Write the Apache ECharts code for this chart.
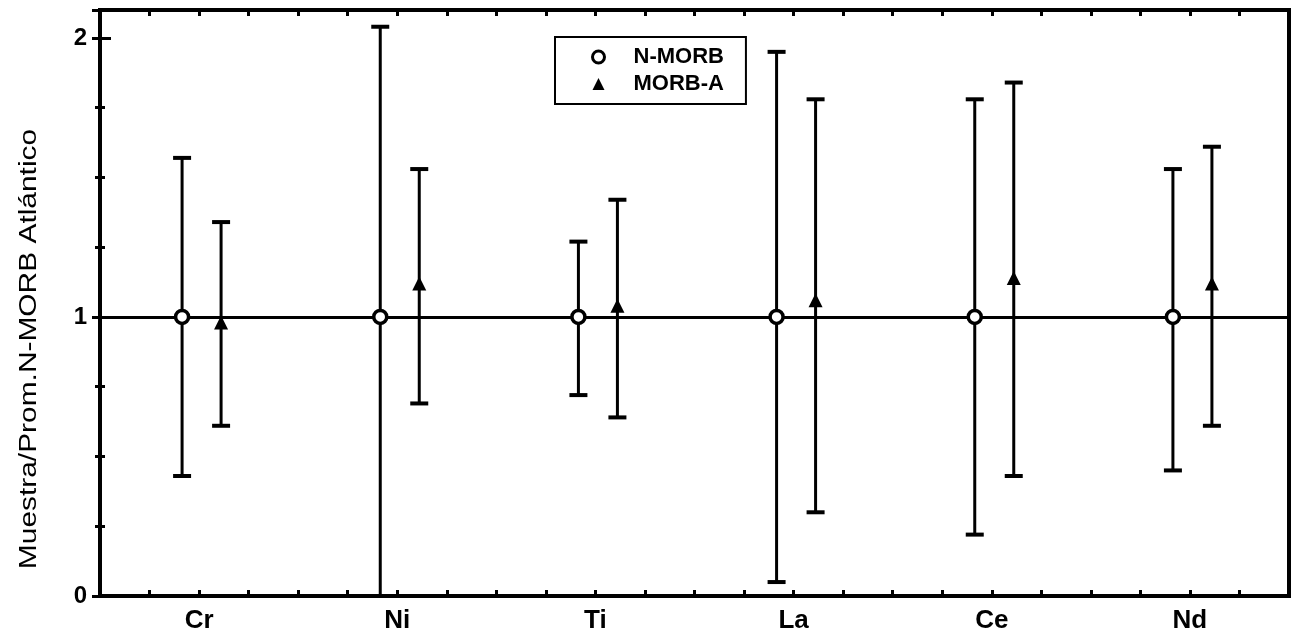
<!DOCTYPE html>
<html><head><meta charset="utf-8">
<script src="https://cdn.jsdelivr.net/npm/echarts@6/dist/echarts.min.js"></script>
<style>html,body{margin:0;padding:0;background:#fff}#c{width:1291px;height:636px}</style>
</head><body><div id="c"></div>
<script>
const categories = ['Cr', 'Ni', 'Ti', 'La', 'Ce', 'Nd'];
const seriesNames = ['N-MORB', 'MORB-A'];
const nmorbMean = [1, 1, 1, 1, 1, 1];
const nmorbHigh = [1.57, 2.04, 1.27, 1.95, 1.78, 1.53];
const nmorbLow  = [0.43, 0.00, 0.72, 0.05, 0.22, 0.45];
const morbaMean = [0.98, 1.12, 1.04, 1.06, 1.14, 1.12];
const morbaHigh = [1.34, 1.53, 1.42, 1.78, 1.84, 1.61];
const morbaLow  = [0.61, 0.69, 0.64, 0.30, 0.43, 0.61];
const yTickLabels = ['0', '1', '2'];
const refValue = 1;
const yName = 'Muestra/Prom.N-MORB Atlántico';

const FONT = '"Liberation Sans", Arial, sans-serif';
const OFF_N = -17, OFF_A = 22;

function errorBars(offset) {
  return function (params, api) {
    const x = api.value(0), lo = api.value(1), hi = api.value(2);
    const pHi = api.coord([x, hi]);
    const pLo = api.coord([x, lo]);
    const cx = pHi[0] + offset;
    const cap = 9;
    return {
      type: 'group',
      children: [
        { type: 'line', shape: { x1: cx, y1: pHi[1], x2: cx, y2: pLo[1] }, style: { stroke: '#000', lineWidth: 3 } },
        { type: 'line', shape: { x1: cx - cap, y1: pHi[1], x2: cx + cap, y2: pHi[1] }, style: { stroke: '#000', lineWidth: 4 } },
        { type: 'line', shape: { x1: cx - cap, y1: pLo[1], x2: cx + cap, y2: pLo[1] }, style: { stroke: '#000', lineWidth: 4 } }
      ]
    };
  };
}

const chart = echarts.init(document.getElementById('c'));
const tickAxisBase = {
  type: 'value', min: 0, max: 24, interval: 1,
  axisLine: { show: false }, axisLabel: { show: false }, splitLine: { show: false },
  axisTick: { show: true, inside: true, length: 6, lineStyle: { color: '#000', width: 3 } }
};
chart.setOption({
  animation: false,
  backgroundColor: '#fff',
  grid: { left: 100, right: 2, top: 10, bottom: 40, show: true, borderColor: '#000', borderWidth: 4, backgroundColor: 'transparent' },
  legend: {
    orient: 'vertical', left: 555, top: 37,
    borderColor: '#000', borderWidth: 2, borderRadius: 0,
    padding: [9, 22, 9, 36],
    itemGap: 5, itemWidth: 12, itemHeight: 12,
    textStyle: { fontFamily: FONT, fontWeight: 'bold', fontSize: 22, lineHeight: 20, color: '#000', padding: [0, 0, 0, 24] },
    data: [
      { name: seriesNames[0], icon: 'circle', itemStyle: { color: '#fff', borderColor: '#000', borderWidth: 3 } },
      { name: seriesNames[1], icon: 'triangle', itemStyle: { color: '#000' } }
    ]
  },
  xAxis: [
    {
      type: 'category', data: categories, boundaryGap: true,
      axisLine: { show: false }, axisTick: { show: false }, splitLine: { show: false },
      axisLabel: { color: '#000', fontFamily: FONT, fontWeight: 'bold', fontSize: 26, margin: 12 }
    },
    Object.assign({}, tickAxisBase, { position: 'bottom' }),
    Object.assign({}, tickAxisBase, { position: 'top' })
  ],
  yAxis: [
    {
      type: 'value', min: 0, max: 2.1, interval: 1,
      axisLine: { show: false }, splitLine: { show: false },
      axisTick: { show: true, inside: true, length: 11, lineStyle: { color: '#000', width: 3 } },
      minorTick: { show: true, splitNumber: 4, length: 5, lineStyle: { color: '#000', width: 3 } },
      axisLabel: {
        color: '#000', fontFamily: FONT, fontWeight: 'bold', fontSize: 24, margin: 13, showMaxLabel: false,
        formatter: v => (Number.isInteger(v) ? yTickLabels[v] : '')
      }
    },
    {
      type: 'value', min: 0, max: 2.1, interval: 1, position: 'right',
      axisLine: { show: false }, splitLine: { show: false }, axisLabel: { show: false },
      axisTick: { show: true, inside: true, length: 8, lineStyle: { color: '#000', width: 3 } },
      minorTick: { show: true, splitNumber: 4, length: 5, lineStyle: { color: '#000', width: 3 } }
    }
  ],
  graphic: [{
    type: 'text', x: 30, y: 349, rotation: Math.PI / 2, scaleX: 1.3,
    style: { text: yName, font: '23px "Liberation Sans", Arial, sans-serif', fill: '#000', align: 'center', verticalAlign: 'middle', textAlign: 'center', textVerticalAlign: 'middle' }
  }],
  series: [
    {
      type: 'custom', name: 'bars-n', renderItem: errorBars(OFF_N), z: 3,
      data: categories.map((c, i) => [i, nmorbLow[i], nmorbHigh[i]]),
      markLine: {
        silent: true, symbol: 'none', label: { show: false },
        lineStyle: { color: '#000', width: 3, type: 'solid' },
        data: [{ yAxis: refValue }]
      }
    },
    {
      type: 'custom', name: 'bars-a', renderItem: errorBars(OFF_A), z: 3,
      data: categories.map((c, i) => [i, morbaLow[i], morbaHigh[i]])
    },
    {
      type: 'scatter', name: seriesNames[0], symbol: 'circle', symbolSize: 13, symbolOffset: [OFF_N, 0], z: 5,
      itemStyle: { color: '#fff', borderColor: '#000', borderWidth: 3.5, opacity: 1 },
      data: categories.map((c, i) => [i, nmorbMean[i]])
    },
    {
      type: 'scatter', name: seriesNames[1], symbol: 'triangle', symbolSize: 14, symbolOffset: [OFF_A, 0], z: 5,
      itemStyle: { color: '#000', opacity: 1 },
      data: categories.map((c, i) => [i, morbaMean[i]])
    }
  ]
});
</script></body></html>
